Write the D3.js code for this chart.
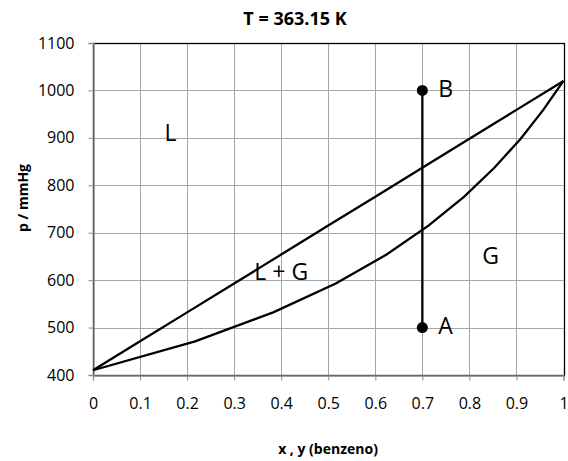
<!DOCTYPE html>
<html>
<head>
<meta charset="utf-8">
<script src="https://cdn.jsdelivr.net/npm/d3@7"></script>
<style>
  body { margin: 0; background: #fff; }
  text { font-family: "Open Sans", "Liberation Sans", sans-serif; }
</style>
</head>
<body>
<div id="container"><svg></svg></div>
<script>
let width = 568;
let height = 461;

// liquid curve (bubble line): x benzene vs p
let liqX = [0, 0.1, 0.2, 0.3, 0.4, 0.5, 0.6, 0.7, 0.8, 0.9, 1];
let liqP = [410, 471, 532, 593, 654, 715, 776, 837, 898, 959, 1020];
// vapour curve (dew line): y benzene vs p
let vapY = [0, 0.217, 0.383, 0.516, 0.624, 0.713, 0.789, 0.853, 0.909, 0.957, 1];
let vapP = [410, 471, 532, 593, 654, 715, 776, 837, 898, 959, 1020];
// points A and B
let ptNames = ['A', 'B'];
let ptX = [0.7, 0.7];
let ptP = [500, 1000];
// region labels
let regNames = ['L', 'L + G', 'G'];
let regX = [0.165, 0.40, 0.845];
let regP = [910, 618, 650];

let xTicks = [0, 0.1, 0.2, 0.3, 0.4, 0.5, 0.6, 0.7, 0.8, 0.9, 1];
let yTicks = [400, 500, 600, 700, 800, 900, 1000, 1100];

let margin = {left: 93, right: 4, top: 43, bottom: 86};

function draw_chart() {
    let svg = d3.select('#container').select('svg')
        .attr('width', width)
        .attr('height', height);

    let x = d3.scaleLinear().domain([0, 1]).range([margin.left, width - margin.right - 0.5]);
    let y = d3.scaleLinear().domain([400, 1100]).range([height - margin.bottom, margin.top]);

    // grid
    let grid = svg.append('g').attr('stroke', '#a6a6a6').attr('stroke-width', 1);
    grid.selectAll('.gx').data(xTicks.slice(1))
        .join('line')
        .attr('x1', d => Math.round(x(d)) + 0.5).attr('x2', d => Math.round(x(d)) + 0.5)
        .attr('y1', y(400)).attr('y2', y(1100));
    grid.selectAll('.gy').data(yTicks.slice(1))
        .join('line')
        .attr('x1', x(0)).attr('x2', x(1))
        .attr('y1', d => Math.round(y(d)) + 0.5).attr('y2', d => Math.round(y(d)) + 0.5);

    // plot border
    svg.append('rect')
        .attr('x', Math.round(x(0)) + 0.5).attr('y', Math.round(y(1100)) + 0.5)
        .attr('width', Math.round(x(1)) - Math.round(x(0)))
        .attr('height', Math.round(y(400)) - Math.round(y(1100)))
        .attr('fill', 'none').attr('stroke', '#000').attr('stroke-width', 1.3);

    // axes
    let xAxis = d3.axisBottom(x).tickValues(xTicks).tickSize(5).tickPadding(17)
        .tickFormat(d => d3.format('~g')(d));
    let gx = svg.append('g').attr('transform', `translate(0,${Math.round(y(400)) + 0.5})`).call(xAxis);
    let yAxis = d3.axisLeft(y).tickValues(yTicks).tickSize(5).tickPadding(14)
        .tickFormat(d => String(d));
    let gy = svg.append('g').attr('transform', `translate(${Math.round(x(0)) + 0.5},0)`).call(yAxis);
    [gx, gy].forEach(g => {
        g.attr('font-size', null).attr('font-family', null);
        g.select('.domain').attr('stroke', '#8c8c8c').attr('stroke-width', 1.3);
        g.selectAll('.tick line').attr('stroke', '#8c8c8c');
        g.selectAll('.tick text').attr('fill', '#000').style('font-size', '16px');
    });

    let line = d3.line().x(d => x(d[0])).y(d => y(d[1]));

    svg.append('path')
        .datum(liqX.map((v, i) => [v, liqP[i]]))
        .attr('d', line).attr('fill', 'none').attr('stroke', '#000').attr('stroke-width', 2.3);
    svg.append('path')
        .datum(vapY.map((v, i) => [v, vapP[i]]))
        .attr('d', line).attr('fill', 'none').attr('stroke', '#000').attr('stroke-width', 2.3);

    // A-B line
    svg.append('path')
        .datum(ptX.map((v, i) => [v, ptP[i]]))
        .attr('d', line).attr('fill', 'none').attr('stroke', '#000').attr('stroke-width', 2.3);
    svg.selectAll('.pt').data(ptNames)
        .join('circle')
        .attr('cx', (d, i) => x(ptX[i])).attr('cy', (d, i) => y(ptP[i]))
        .attr('r', 5.5).attr('fill', '#000');
    svg.selectAll('.ptl').data(ptNames)
        .join('text')
        .attr('x', (d, i) => x(ptX[i]) + 16).attr('y', (d, i) => y(ptP[i]))
        .attr('dy', '0.3em')
        .style('font-size', '23px').text(d => d);

    svg.selectAll('.reg').data(regNames)
        .join('text')
        .attr('x', (d, i) => x(regX[i])).attr('y', (d, i) => y(regP[i]))
        .attr('text-anchor', 'middle').attr('dy', '0.35em')
        .style('font-size', '23px').text(d => d);

    // titles
    svg.append('text').attr('x', 295).attr('y', 25).attr('text-anchor', 'middle')
        .style('font-size', '18px').style('font-weight', 'bold').text('T = 363.15 K');
    svg.append('text').attr('x', 328).attr('y', 454).attr('text-anchor', 'middle')
        .style('font-size', '14px').style('font-weight', 'bold').text('x , y (benzeno)');
    svg.append('text').attr('transform', 'translate(28,198) rotate(-90)').attr('text-anchor', 'middle')
        .style('font-size', '14px').style('font-weight', 'bold').text('p / mmHg');
}

draw_chart();
</script>
</body>
</html>
